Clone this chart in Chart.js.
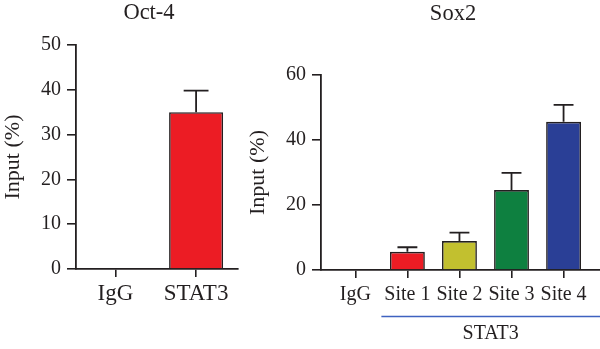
<!DOCTYPE html>
<html>
<head>
<meta charset="utf-8">
<script src="https://cdn.jsdelivr.net/npm/chart.js@4.4.0/dist/chart.umd.min.js"></script>
<style>
  html, body { margin: 0; padding: 0; background: #fff; overflow: hidden; }
  #wrap { position: relative; width: 600px; height: 349px; }
  #oct4 { position: absolute; left: 0; top: 0; }
  #sox2 { position: absolute; left: 245px; top: 0; }
</style>
</head>
<body>
<div id="wrap">
  <canvas id="oct4" width="245" height="349"></canvas>
  <canvas id="sox2" width="355" height="349"></canvas>
</div>
<script>
// Oct-4 panel
const oct4Labels = ["IgG", "STAT3"];
const oct4Values = [0, 35];
const oct4Errors = [0, 4.8];
const oct4Colors = ["#ec1c24", "#ec1c24"];
const oct4Ticks = [0, 10, 20, 30, 40, 50];

// Sox2 panel
const sox2Labels = ["IgG", "Site 1", "Site 2", "Site 3", "Site 4"];
const sox2Values = [0, 5.6, 8.9, 24.6, 45.6];
const sox2Errors = [0, 1.4, 2.6, 5.3, 5.2];
const sox2Colors = ["#ec1c24", "#ec1c24", "#c2c02f", "#0e8040", "#2a3f96"];
const sox2Ticks = [0, 20, 40, 60];
const sox2Group = "STAT3";

const INK = "#231f20";
const SERIF = "'Liberation Serif', 'DejaVu Serif', serif";

// draws the upper half of the error bar on each bar
const errorBars = {
  id: "errorBars",
  afterDatasetsDraw(chart, args, opts) {
    const ctx = chart.ctx;
    const yScale = chart.scales.y;
    const data = chart.data.datasets[0].data;
    ctx.save();
    ctx.strokeStyle = INK;
    ctx.lineWidth = 1.8;
    chart.getDatasetMeta(0).data.forEach((bar, i) => {
      const err = opts.errors[i];
      if (!err) return;
      const top = yScale.getPixelForValue(data[i].y + err);
      const half = (bar.width * opts.cap) / 2;
      ctx.beginPath();
      ctx.moveTo(bar.x, bar.y);
      ctx.lineTo(bar.x, top);
      ctx.moveTo(bar.x - half, top);
      ctx.lineTo(bar.x + half, top);
      ctx.stroke();
    });
    ctx.restore();
  },
};

// panel heading
const panelTitle = {
  id: "panelTitle",
  afterDraw(chart, args, opts) {
    const ctx = chart.ctx;
    ctx.save();
    ctx.fillStyle = INK;
    ctx.font = opts.size + "px " + SERIF;
    ctx.textAlign = "center";
    ctx.textBaseline = "alphabetic";
    ctx.fillText(opts.text, opts.x, opts.y);
    ctx.restore();
  },
};

// blue bracket line + group name under the sites
const groupLabel = {
  id: "groupLabel",
  afterDraw(chart, args, opts) {
    const ctx = chart.ctx;
    const xScale = chart.scales.x;
    const x0 = xScale.getPixelForValue(opts.from);
    const x1 = xScale.right;
    const yLine = Math.round(chart.chartArea.bottom + opts.lineGap) + 0.5;
    ctx.save();
    ctx.strokeStyle = opts.color;
    ctx.lineWidth = 1.4;
    ctx.beginPath();
    ctx.moveTo(x0, yLine);
    ctx.lineTo(x1, yLine);
    ctx.stroke();
    ctx.fillStyle = INK;
    ctx.font = opts.size + "px " + SERIF;
    ctx.textAlign = "center";
    ctx.textBaseline = "middle";
    ctx.fillText(opts.text, (x0 + x1) / 2, yLine + opts.textGap);
    ctx.restore();
  },
};

function makeOptions(cfg) {
  return {
    responsive: false,
    animation: false,
    events: [],
    layout: { padding: { top: cfg.top, right: cfg.right, left: 0, bottom: 0 } },
    datasets: { bar: { categoryPercentage: 1, barPercentage: 0.67 } },
    plugins: {
      legend: { display: false },
      tooltip: { enabled: false },
      errorBars: { errors: cfg.errors, cap: cfg.cap },
      panelTitle: cfg.title,
      groupLabel: cfg.group || {},
    },
    scales: {
      x: {
        type: "linear",
        offset: false,
        min: cfg.xMin,
        max: cfg.xMax,
        afterBuildTicks: (s) => {
          s.ticks = cfg.labels.map((_, i) => ({ value: i }));
        },
        afterFit: (s) => {
          s.height = cfg.xHeight;
        },
        ticks: {
          autoSkip: false,
          maxRotation: 0,
          padding: cfg.xPad,
          color: INK,
          font: { family: SERIF, size: cfg.xFont },
          callback: (v) => cfg.labels[v],
        },
        grid: {
          offset: false,
          drawOnChartArea: false,
          drawTicks: true,
          tickLength: 8,
          color: INK,
          lineWidth: 1.6,
        },
        border: { color: INK, width: 1.8 },
      },
      y: {
        min: 0,
        max: cfg.yTicks[cfg.yTicks.length - 1],
        afterBuildTicks: (s) => {
          s.ticks = cfg.yTicks.map((v) => ({ value: v }));
        },
        afterFit: (s) => {
          s.width = cfg.yWidth;
        },
        ticks: {
          padding: 6,
          color: INK,
          font: { family: SERIF, size: 20 },
        },
        grid: {
          drawOnChartArea: false,
          drawTicks: true,
          tickLength: 9,
          color: INK,
          lineWidth: 1.6,
        },
        border: { color: INK, width: 1.8 },
        title: {
          display: true,
          text: "Input (%)",
          color: INK,
          font: { family: SERIF, size: 22 },
          padding: { top: 0, bottom: 0 },
        },
      },
    },
  };
}

new Chart(document.getElementById("oct4"), {
  type: "bar",
  data: {
    datasets: [
      {
        data: oct4Values.map((v, i) => ({ x: i, y: v })),
        backgroundColor: oct4Colors,
        borderColor: INK,
        borderWidth: 1.6,
        borderSkipped: "bottom",
      },
    ],
  },
  options: makeOptions({
    top: 45,
    right: 7,
    labels: oct4Labels,
    errors: oct4Errors,
    cap: 0.46,
    xMin: -0.49,
    xMax: 1.52,
    xHeight: 80,
    xPad: 3,
    xFont: 23,
    yTicks: oct4Ticks,
    yWidth: 76,
    title: { text: "Oct-4", x: 149, y: 19, size: 22.5 },
  }),
  plugins: [errorBars, panelTitle],
});

new Chart(document.getElementById("sox2"), {
  type: "bar",
  data: {
    datasets: [
      {
        data: sox2Values.map((v, i) => ({ x: i, y: v })),
        backgroundColor: sox2Colors,
        borderColor: INK,
        borderWidth: 1.6,
        borderSkipped: "bottom",
      },
    ],
  },
  options: makeOptions({
    top: 75,
    right: 0,
    labels: sox2Labels,
    errors: sox2Errors,
    cap: 0.57,
    xMin: -0.66,
    xMax: 4.7,
    xHeight: 79,
    xPad: 5,
    xFont: 20,
    yTicks: sox2Ticks,
    yWidth: 76,
    title: { text: "Sox2", x: 208, y: 19.5, size: 22.5 },
    group: { text: sox2Group, from: 0.5, lineGap: 46, textGap: 17, color: "#3f62c0", size: 20 },
  }),
  plugins: [errorBars, panelTitle, groupLabel],
});
</script>
</body>
</html>
